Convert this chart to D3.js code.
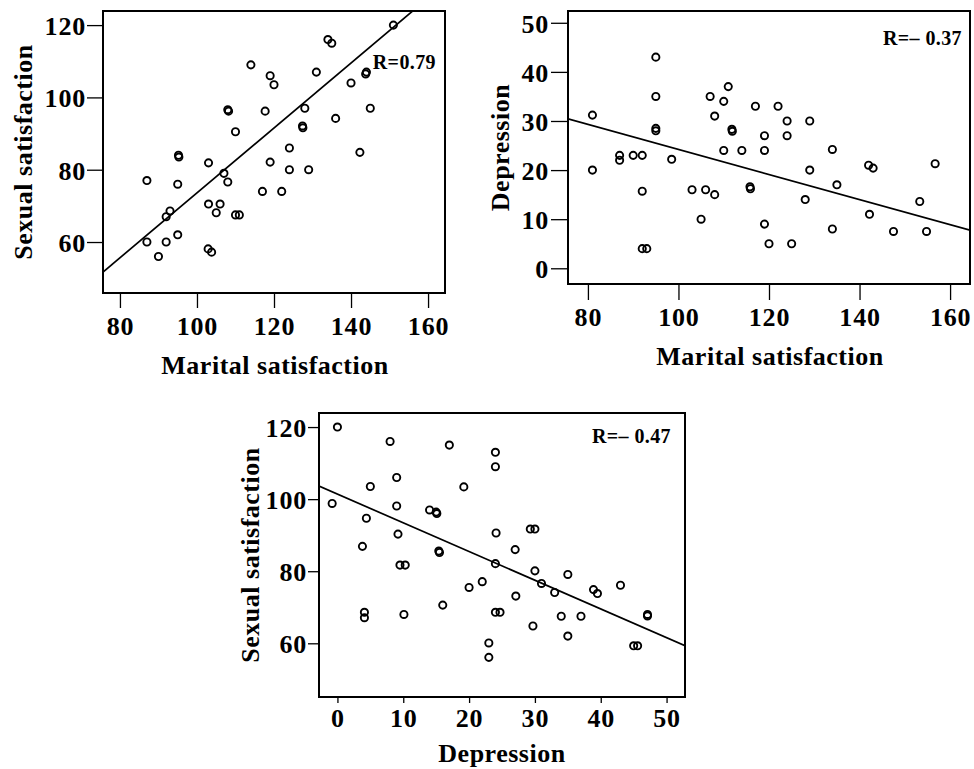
<!DOCTYPE html>
<html>

<head>
    <meta charset="UTF-8">
    <title>Scatter plots</title>
    <style>
        body {
            margin: 0;
            background: #fff;
        }

        svg text {
            font-family: "Liberation Serif", "Times New Roman", serif;
            font-weight: bold;
            fill: #000;
        }

        .axis path {
            display: none;
        }

        .axis line {
            stroke: #000;
            stroke-width: 1.3px;
        }

        .axis text {
            font-size: 26px;
            letter-spacing: 0.8px;
        }

        .title {
            font-size: 26px;
            letter-spacing: 0.5px;
        }

        .frame {
            fill: none;
            stroke: #000;
            stroke-width: 2px;
        }

        .dot {
            fill: none;
            stroke: #000;
            stroke-width: 1.9px;
        }

        .fit {
            stroke: #000;
            stroke-width: 1.7px;
        }
    </style>
</head>

<body>
    <svg id="chart" width="974" height="769"></svg>

    <script src="https://cdn.jsdelivr.net/npm/d3@7"></script>

    <script>
        // panel A: marital satisfaction vs sexual satisfaction
        const maritalA = [151, 134, 135, 114, 131, 119, 120, 144, 143.8, 140, 145, 136, 128, 117.7, 108, 108.2,
            110, 127.4, 127.5, 124, 142.3, 95.2, 95.3, 103, 119, 124, 129, 107, 108, 87, 95, 117, 122, 103, 106,
            105, 110, 111, 93, 92, 87, 92, 95, 90, 102.9, 103.8
        ];
        const sexualA = [120, 116, 115, 109, 107, 106, 103.5, 107, 106.5, 104, 97, 94.2, 97, 96.2, 96.6, 96.2,
            90.5, 92.1, 91.6, 86, 84.8, 84, 83.5, 81.9, 82.1, 80, 80, 79, 76.6, 77, 76, 74, 74, 70.5, 70.5,
            68.1, 67.5, 67.5, 68.6, 67, 60, 60, 62, 56, 58.1, 57.2
        ];

        // panel B: marital satisfaction vs depression
        const maritalB = [95, 95, 95, 95, 81, 81, 87, 87, 90, 92, 92, 92, 93, 98.5, 103, 106, 108, 105, 107, 111,
            110, 108, 110, 111.8, 111.9, 114, 115.8, 115.9, 117, 119, 119, 119, 120, 122, 124, 124, 125, 129,
            129, 128, 134, 135, 134, 142, 143, 142.2, 147.5, 153.3, 154.8, 156.7
        ];
        const depressionB = [43, 35, 28.5, 28, 31.2, 20, 23, 22, 23, 23, 15.7, 4, 4, 22.2, 16, 16, 15, 10, 35,
            37, 34, 31, 24, 28.3, 27.9, 24, 16.6, 16.2, 33, 27, 24, 9, 5, 33, 30, 27, 5, 30, 20, 14, 24.2,
            17, 8, 21, 20.4, 11, 7.5, 13.6, 7.5, 21.3
        ];

        // panel C: depression vs sexual satisfaction
        const depressionC = [0, -0.8, 8, 17, 24, 24, 9, 5, 19.2, 9, 14, 15, 15.1, 4.4, 9.2, 24.1, 29.3, 30, 3.8,
            27, 15.4, 15.5, 9.5, 10.3, 24, 30, 35, 22, 20, 31, 33, 38.9, 39.5, 43, 27.1, 16, 4.1, 4.1, 10.1, 24,
            24.7, 34, 37, 47.1, 47.1, 29.7, 35, 23, 23, 45, 45.6
        ];
        const sexualC = [120, 98.8, 116, 115, 113, 109, 106, 103.5, 103.4, 98.1, 97, 96.4, 96, 94.7, 90.3, 90.6,
            91.7, 91.7, 86.9, 86, 85.6, 85.2, 81.7, 81.7, 82.1, 80.1, 79.1, 77.1, 75.5, 76.6, 74.1, 74.9,
            73.8, 76.1, 73.1, 70.6, 68.6, 67.1, 68, 68.6, 68.6, 67.5, 67.5, 68, 67.6, 64.8, 62, 60.1, 56.1,
            59.3, 59.3
        ];

        // fitted lines: [intercept, slope]
        const fitA = [-16.2, 0.898];
        const fitB = [49.7, -0.255];
        const fitC = [101.4, -0.797];

        const rLabels = ['R=0.79', 'R=\u2013 0.37', 'R=\u2013 0.47'];

        const xTicksMarital = [80, 100, 120, 140, 160];
        const yTicksSexual = [60, 80, 100, 120];
        const yTicksDepression = [0, 10, 20, 30, 40, 50];
        const xTicksDepression = [0, 10, 20, 30, 40, 50];

        const svg = d3.select('#chart');

        function drawPanel(p) {
            const g = svg.append('g');
            const w = p.right - p.left;
            const h = p.bottom - p.top;

            const x = d3.scaleLinear().domain(p.xDomain).range([p.left, p.right]);
            const y = d3.scaleLinear().domain(p.yDomain).range([p.bottom, p.top]);

            g.append('rect')
                .attr('class', 'frame')
                .attr('x', p.left)
                .attr('y', p.top)
                .attr('width', w)
                .attr('height', h);

            g.append('g')
                .attr('class', 'axis')
                .attr('transform', `translate(0,${ p.bottom })`)
                .call(d3.axisBottom(x).tickValues(p.xTicks).tickSize(p.xTick[0]).tickPadding(p.xTick[1]));

            g.append('g')
                .attr('class', 'axis')
                .attr('transform', `translate(${ p.left },0)`)
                .call(d3.axisLeft(y).tickValues(p.yTicks).tickSize(p.yTick[0]).tickPadding(p.yTick[1]))
                .selectAll('text')
                .attr('dy', '0.36em');

            const clipId = 'clip' + p.id;
            g.append('clipPath')
                .attr('id', clipId)
                .append('rect')
                .attr('x', p.left)
                .attr('y', p.top)
                .attr('width', w)
                .attr('height', h);

            g.append('line')
                .attr('class', 'fit')
                .attr('clip-path', `url(#${ clipId })`)
                .attr('x1', x(p.xDomain[0]))
                .attr('y1', y(p.fit[0] + p.fit[1] * p.xDomain[0]))
                .attr('x2', x(p.xDomain[1]))
                .attr('y2', y(p.fit[0] + p.fit[1] * p.xDomain[1]));

            g.append('g')
                .selectAll('circle')
                .data(p.xs)
                .enter()
                .append('circle')
                .attr('class', 'dot')
                .attr('cx', d => x(d))
                .attr('cy', (d, i) => y(p.ys[i]))
                .attr('r', 3.6);

            g.append('text')
                .attr('x', p.rPos[0])
                .attr('y', p.rPos[1])
                .attr('text-anchor', 'end')
                .style('font-size', '20px')
                .style('letter-spacing', '0.4px')
                .text(p.rLabel);

            g.append('text')
                .attr('class', 'title')
                .attr('x', p.left + w / 2 + p.xTitleShift)
                .attr('y', p.xTitleY)
                .attr('text-anchor', 'middle')
                .text(p.xTitle);

            g.append('text')
                .attr('class', 'title')
                .attr('transform', `translate(${ p.yTitleX },${ p.top + h / 2 + p.yTitleShift }) rotate(-90)`)
                .attr('text-anchor', 'middle')
                .text(p.yTitle);
        }

        drawPanel({
            id: 'A',
            left: 103, right: 445, top: 11, bottom: 293,
            xDomain: [75.6, 164.4], yDomain: [45.9, 123.9],
            xTicks: xTicksMarital, yTicks: yTicksSexual,
            xTick: [15, 9], yTick: [16, 1],
            xs: maritalA, ys: sexualA, fit: fitA,
            rLabel: rLabels[0], rPos: [436, 69],
            xTitle: 'Marital satisfaction', xTitleY: 374, xTitleShift: 1,
            yTitle: 'Sexual satisfaction', yTitleX: 32, yTitleShift: 0
        });

        drawPanel({
            id: 'B',
            left: 568, right: 970, top: 11, bottom: 284,
            xDomain: [75.6, 164.4], yDomain: [-3.2, 52.4],
            xTicks: xTicksMarital, yTicks: yTicksDepression,
            xTick: [16, 8], yTick: [17, 2],
            xs: maritalB, ys: depressionB, fit: fitB,
            rLabel: rLabels[1], rPos: [962, 45],
            xTitle: 'Marital satisfaction', xTitleY: 365, xTitleShift: 1,
            yTitle: 'Depression', yTitleX: 509, yTitleShift: 0
        });

        drawPanel({
            id: 'C',
            left: 319, right: 685, top: 413, bottom: 697,
            xDomain: [-2.8, 52.8], yDomain: [45.1, 123.9],
            xTicks: xTicksDepression, yTicks: yTicksSexual,
            xTick: [6, 6], yTick: [11, 1],
            xs: depressionC, ys: sexualC, fit: fitC,
            rLabel: rLabels[2], rPos: [671, 443],
            xTitle: 'Depression', xTitleY: 762, xTitleShift: 0,
            yTitle: 'Sexual satisfaction', yTitleX: 259, yTitleShift: 0
        });
    </script>
</body>

</html>
